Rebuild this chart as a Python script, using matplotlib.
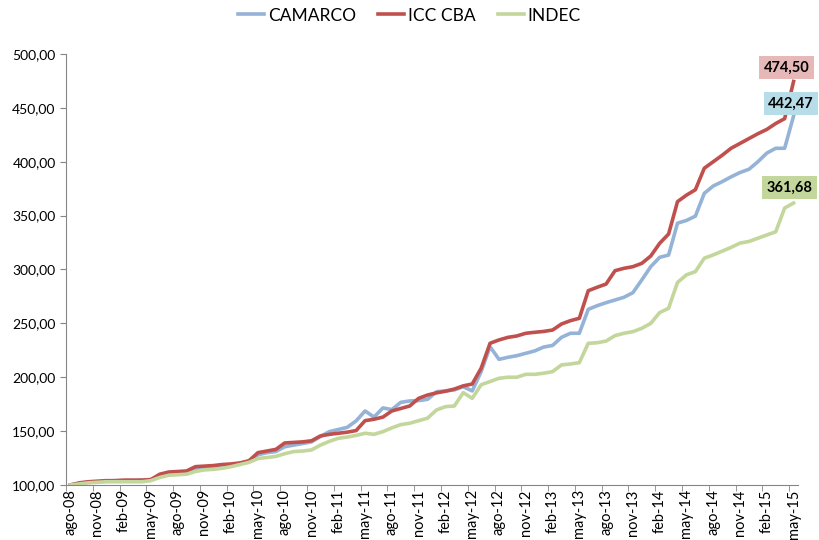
import matplotlib
matplotlib.use("Agg")
import matplotlib.pyplot as plt

plt.rcParams['font.family'] = ['Lato', 'DejaVu Sans']

# monthly index, ago-08 .. may-15 (82 months)
months = ['ago', 'sep', 'oct', 'nov', 'dic', 'ene', 'feb', 'mar', 'abr', 'may', 'jun', 'jul']
labels = []
for k in range(82):
    m = months[k % 12]
    yr = 8 + (k + 7) // 12
    labels.append(f"{m}-{yr:02d}")

icc_cba = [100, 102, 103, 103.5, 104, 104, 104.5, 104.5, 104.5, 105,
           110, 112, 112.5, 113, 117, 117.5, 118, 119, 119.5, 120.5,
           122.5, 130, 131.5, 133, 139, 139.5, 140, 141, 145.5, 147,
           148, 149, 150.5, 159.7, 161, 163, 168.7, 171, 173.3, 180.4,
           183.5, 185.5, 187, 189, 192, 193.7, 208.3, 231.5, 234.6, 237,
           238.3, 240.8, 241.7, 242.5, 243.8, 249.4, 252.5, 254.7, 280.3, 283.5,
           286.5, 298.9, 301.1, 302.6, 305.7, 312.5, 324.3, 332.9, 363, 369,
           374, 394, 400, 406, 412.5, 417, 421.5, 426, 430, 435.5,
           440, 474.50]

camarco = [100, 101.5, 102.5, 103, 103.5, 104, 104, 104, 104.5, 105,
           108.5, 110.5, 111, 112, 115.5, 116.5, 117, 118, 119, 120,
           121.5, 128, 130, 131, 135.5, 137, 138.5, 140, 145, 149.5,
           151.5, 153.5, 159.5, 168.7, 163, 171.5, 170, 176.7, 178, 178.3,
           179.5, 186.5, 187.3, 188.2, 191.2, 187.3, 205.2, 228.3, 216.6, 218.5,
           220, 222.2, 224.4, 228, 229.5, 237, 240.8, 240.8, 263, 266.4,
           269.2, 271.7, 274.2, 278.5, 290.3, 302.6, 311.3, 313.4, 343, 345.5,
           349.5, 370.7, 377.5, 381.5, 386, 390, 393, 400, 408, 412.5,
           412.5, 442.47]

indec = [100, 101, 102, 102.5, 103, 103, 103, 103, 103, 104,
         107, 109, 109.5, 110, 112.5, 114, 114.5, 115.5, 117, 119,
         121, 124.5, 125.5, 126.5, 129, 131, 131.5, 132.5, 137, 140.5,
         143.3, 144.5, 146, 148, 147, 149.5, 153, 156, 157.3, 159.7,
         162, 169.6, 172.7, 173.3, 185.7, 180.4, 193, 196, 199, 200,
         200, 202.7, 202.7, 203.7, 205.2, 211.4, 212.3, 213.5, 231.5, 232,
         233.6, 238.6, 240.8, 242.3, 245.4, 250, 260, 264, 288, 295,
         298, 310.5, 313.5, 317, 320.5, 324.5, 326, 329, 332, 335,
         357, 361.68]

x = list(range(len(labels)))

fig, ax = plt.subplots(figsize=(8.19, 5.4), dpi=100)
fig.subplots_adjust(left=0.0806, right=0.9744, top=0.9, bottom=0.1019)

lw = 2.6
ax.plot(x, camarco, color='#95B3D7', lw=lw, label='CAMARCO', solid_joinstyle='round')
ax.plot(x, icc_cba, color='#C0504D', lw=lw, label='ICC CBA', solid_joinstyle='round')
ax.plot(x, indec, color='#C3D69B', lw=lw, label='INDEC', solid_joinstyle='round')

# last-value labels
last = len(x) - 1
ax.annotate(f"{icc_cba[-1]:.2f}".replace('.', ','), (last, icc_cba[-1]),
            xytext=(-5, 10), textcoords='offset points', ha='center', va='center',
            fontsize=10.5, fontweight='bold',
            bbox=dict(boxstyle='square,pad=0.3', fc='#E6B9B8', ec='none'))
ax.annotate(f"{camarco[-1]:.2f}".replace('.', ','), (last, camarco[-1]),
            xytext=(-2, 9), textcoords='offset points', ha='center', va='center',
            fontsize=10.5, fontweight='bold',
            bbox=dict(boxstyle='square,pad=0.3', fc='#B7DEE8', ec='none'))
ax.annotate(f"{indec[-1]:.2f}".replace('.', ','), (last, indec[-1]),
            xytext=(-3, 11), textcoords='offset points', ha='center', va='center',
            fontsize=10.5, fontweight='bold',
            bbox=dict(boxstyle='square,pad=0.3', fc='#C3D69B', ec='none'))

ax.set_xlim(-0.5, len(x) - 0.5)
ax.set_ylim(100, 500)
ax.set_yticks(range(100, 501, 50))
ax.set_yticklabels([f"{v},00" for v in range(100, 501, 50)], fontsize=10)

ax.set_xticks(x[::3])
ax.set_xticklabels(labels[::3], rotation=90, fontsize=10.5)
ax.set_xticks([k - 0.5 for k in range(0, len(x) + 1, 3)], minor=True)
ax.tick_params(axis='x', which='major', length=0, pad=3)
ax.tick_params(axis='x', which='minor', length=4, color='#868686')
ax.tick_params(axis='y', length=4, color='#868686')

for s in ['top', 'right']:
    ax.spines[s].set_visible(False)
for s in ['left', 'bottom']:
    ax.spines[s].set_color('#868686')

fig.legend(loc='upper center', bbox_to_anchor=(0.5, 1.015), ncol=3, frameon=False,
           fontsize=12.5, handlelength=1.5, handletextpad=0.2, columnspacing=1.3)

fig.savefig('out.png', dpi=100)
